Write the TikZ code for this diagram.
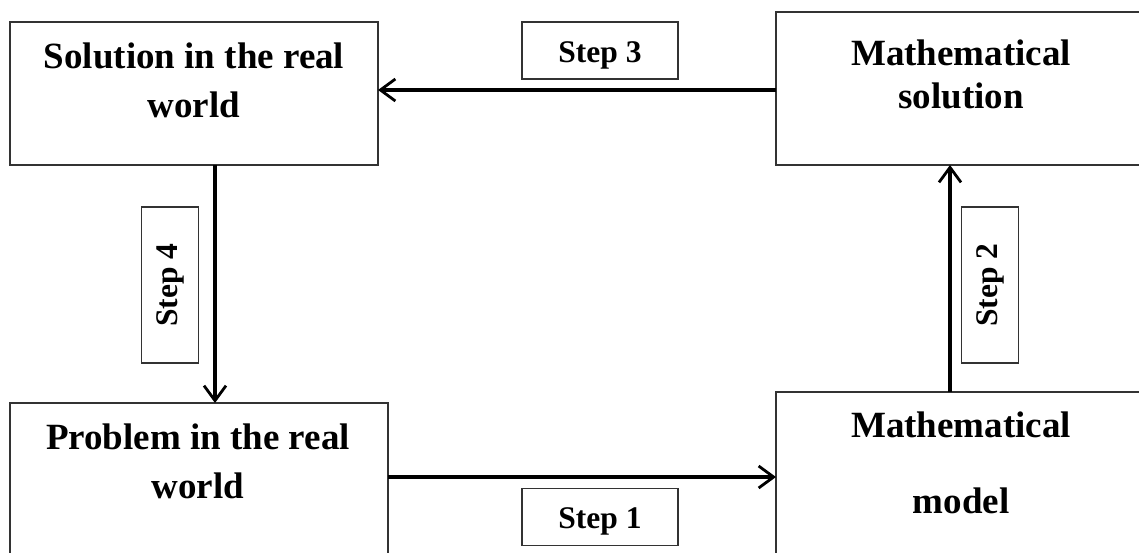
\documentclass[tikz,border=0pt]{standalone}
\usepackage{fontspec}
\setmainfont{Liberation Serif}
\usetikzlibrary{arrows.meta}
\begin{document}
\begin{tikzpicture}[x=1pt,y=-1pt,
  bigbox/.style={draw=black!80,line width=1.5pt,rectangle,inner sep=0pt,outer sep=0pt,anchor=north west},
  boxtext/.style={anchor=base,inner sep=0pt,font=\fontsize{37}{44}\selectfont\bfseries},
  stepbox/.style={draw=black!80,line width=1.3pt,rectangle,inner sep=0pt,outer sep=0pt,minimum width=156pt,minimum height=57pt,font=\fontsize{31.5}{38}\selectfont\bfseries},
  lowtext/.style={text height=26pt,text depth=3pt},
  flow/.style={line width=3.1pt,-{Straight Barb[length=15pt,width=22pt,line width=2.8pt]}}]
\useasboundingbox (0,0) rectangle (1139,552);
\fill[white] (0,0) rectangle (1139,552);
% boxes
\node[bigbox,minimum width=368pt,minimum height=143pt] (sol) at (10,22) {};
\node[bigbox,minimum width=372pt,minimum height=153pt] (msol) at (776,12) {};
\node[bigbox,minimum width=378pt,minimum height=160pt] (prob) at (10,403) {};
\node[bigbox,minimum width=372pt,minimum height=170pt] (mmodel) at (776,392) {};
% box texts
\node[boxtext] (sol1) at (194,68) {Solution in the real};
\node[boxtext] (sol2) at (194,117) {world};
\node[boxtext] (msol1) at (961,65) {Mathematical};
\node[boxtext] (msol2) at (961,108) {solution};
\node[boxtext] (prob1) at (198,449) {Problem in the real};
\node[boxtext] (prob2) at (198,498) {world};
\node[boxtext] (mm1) at (961,437) {Mathematical};
\node[boxtext] (mm2) at (961,513) {model};
% step labels
\node[stepbox,lowtext] (s3) at (600,50.5) {Step 3};
\node[stepbox,lowtext] (s1) at (600,517) {Step 1};
\node[stepbox,rotate=90] (s4) at (170,285) {Step 4};
\node[stepbox,rotate=90] (s2) at (990,285) {Step 2};
% connectors
\coordinate (y3) at (0,90);
\coordinate (y1) at (0,477);
\coordinate (x4) at (215,0);
\coordinate (x2) at (950,0);
\draw[flow] (msol.west |- y3) -- (sol.east |- y3);
\draw[flow] (sol.south -| x4) -- (prob.north -| x4);
\draw[flow] (prob.east |- y1) -- (mmodel.west |- y1);
\draw[flow] (mmodel.north -| x2) -- (msol.south -| x2);
\end{tikzpicture}
\end{document}
